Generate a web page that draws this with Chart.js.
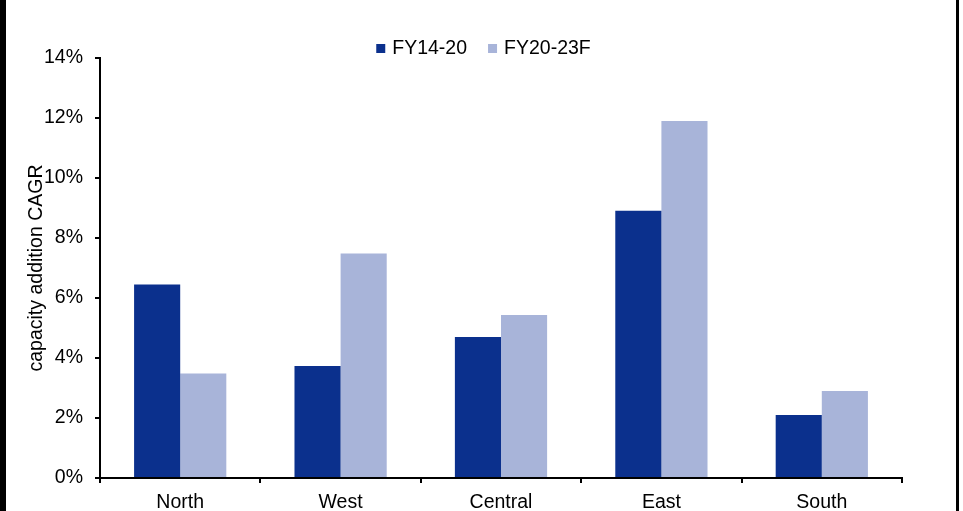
<!DOCTYPE html>
<html>
<head>
<meta charset="utf-8">
<script src="https://cdn.jsdelivr.net/npm/chart.js@4/dist/chart.umd.min.js"></script>
<style>
  html, body { margin: 0; padding: 0; background: #fff; }
  #frame {
    position: absolute; left: 0; top: 0;
    width: 959px; height: 511px;
    box-sizing: border-box;
    border-left: 6px solid #000;
    border-right: 3px solid #000;
    background: #fff;
  }
  #chart { display: block; }
</style>
</head>
<body>
<div id="frame"><canvas id="chart" width="950" height="511"></canvas></div>
<script>
// Regions and capacity-addition CAGR (%) for the two periods
const regions = ['North', 'West', 'Central', 'East', 'South'];
const cagrFY14to20 = [6.45, 3.73, 4.70, 8.91, 2.10];
const cagrFY20to23F = [3.48, 7.48, 5.43, 11.9, 2.90];
const seriesNames = ['FY14-20', 'FY20-23F'];
const yTicks = [0, 2, 4, 6, 8, 10, 12, 14];

const FONT = { family: '"Liberation Sans", Arial, sans-serif', size: 19.5 };
const DARK = '#0b308d';
const LIGHT = '#a8b4d9';

// Horizontal legend with small square swatches, centred above the plot
const topLegend = {
  id: 'topLegend',
  afterDraw(chart) {
    const ctx = chart.ctx;
    const box = 9, gapText = 7, gapItem = 21;
    ctx.save();
    ctx.font = FONT.size + 'px ' + FONT.family;
    ctx.textBaseline = 'middle';
    ctx.textAlign = 'left';
    const items = chart.data.datasets.map(ds => ({
      text: ds.label, color: ds.backgroundColor,
      w: box + gapText + ctx.measureText(ds.label).width
    }));
    const total = items.reduce((s, it) => s + it.w, 0) + gapItem * (items.length - 1);
    let x = 477.5 - total / 2;
    const cy = 49;
    items.forEach(it => {
      ctx.fillStyle = it.color;
      ctx.fillRect(x, cy - 5, box, box);
      ctx.fillStyle = '#000';
      ctx.fillText(it.text, x + box + gapText, cy);
      x += it.w + gapItem;
    });
    ctx.restore();
  }
};

new Chart(document.getElementById('chart'), {
  type: 'bar',
  data: {
    labels: regions,
    datasets: [
      { label: seriesNames[0], data: cagrFY14to20, backgroundColor: DARK },
      { label: seriesNames[1], data: cagrFY20to23F, backgroundColor: LIGHT }
    ]
  },
  options: {
    responsive: false,
    animation: false,
    devicePixelRatio: 1,
    layout: { padding: { top: 58, right: 54, bottom: 0, left: 0 } },
    datasets: { bar: { categoryPercentage: 0.575, barPercentage: 1.0 } },
    plugins: {
      legend: { display: false },
      tooltip: { enabled: false }
    },
    scales: {
      x: {
        grid: {
          display: true, drawOnChartArea: false, drawTicks: true,
          tickLength: 5, color: '#000', lineWidth: 2, offset: true
        },
        border: { display: true, color: '#000', width: 2 },
        ticks: { color: '#000', font: FONT, padding: 8, maxRotation: 0 },
        afterFit(scale) { scale.height = 33; }
      },
      y: {
        min: 0, max: 14,
        afterBuildTicks(scale) { scale.ticks = yTicks.map(v => ({ value: v })); },
        grid: {
          display: true, drawOnChartArea: false, drawTicks: true,
          tickLength: 5, color: '#000', lineWidth: 2
        },
        border: { display: true, color: '#000', width: 2 },
        ticks: {
          color: '#000', font: FONT, padding: 12,
          callback: v => v + '%'
        },
        title: {
          display: true, text: 'capacity addition CAGR', color: '#000',
          font: FONT, padding: { top: 19, bottom: 0 }
        },
        afterFit(scale) { scale.width = 94; }
      }
    }
  },
  plugins: [topLegend]
});
</script>
</body>
</html>
